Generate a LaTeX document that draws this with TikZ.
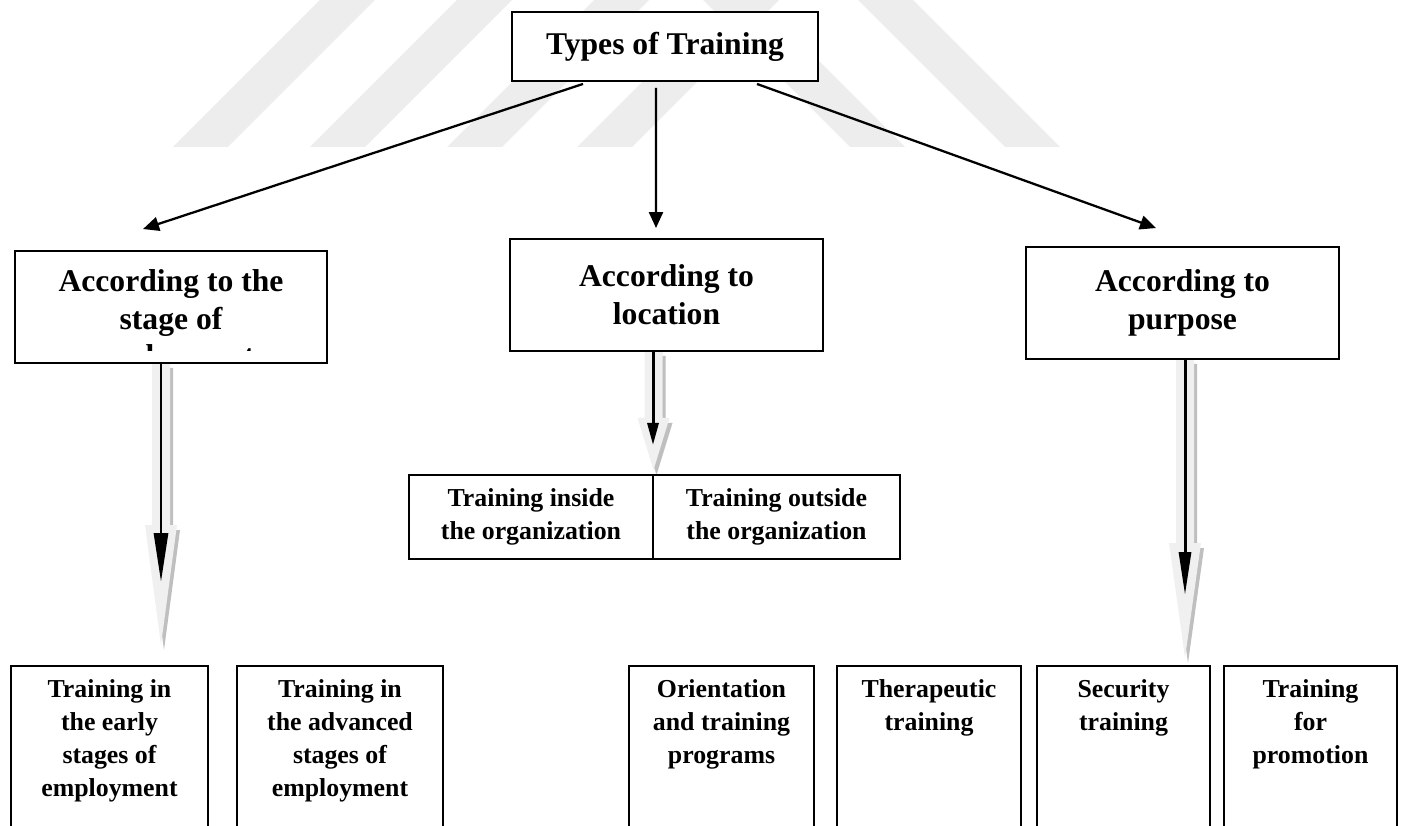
\documentclass[tikz,border=0pt]{standalone}
\usepackage{fontspec}
\setmainfont{Liberation Serif}
\usetikzlibrary{arrows.meta}

\newcommand{\boxfont}{\fontsize{18}{21.5}\selectfont\bfseries}
\newcommand{\leaffont}{\fontsize{14.7}{18.7}\selectfont\bfseries}
% grey block arrow: centre x, top, head base, tip
\newcommand{\hollowarrow}[4]{%
  \fill[black!25, shift={(0.06,-0.1)}] (#1-0.18,#2) -- (#1-0.18,#3) -- (#1-0.32,#3) -- (#1,#4)
     -- (#1+0.32,#3) -- (#1+0.18,#3) -- (#1+0.18,#2) -- cycle;
  \fill[black!6] (#1-0.18,#2) -- (#1-0.18,#3) -- (#1-0.32,#3) -- (#1,#4)
     -- (#1+0.32,#3) -- (#1+0.18,#3) -- (#1+0.18,#2) -- cycle;}

\tikzset{
  stripe/.style={black!7},
  topbox/.style={draw, line width=1.1pt, fill=white, font=\boxfont, inner sep=0pt,
    minimum width=6.12cm, minimum height=1.38cm},
  catbox/.style={draw, line width=1.1pt, fill=white, align=center, font=\boxfont, inner sep=0pt,
    minimum width=6.26cm, minimum height=2.24cm},
  subbox/.style={draw, line width=1.1pt, fill=white, align=center, font=\leaffont, inner sep=0pt,
    minimum height=1.68cm},
  leaf/.style={draw, line width=1.1pt, fill=white, anchor=north, minimum height=4cm},
  leaftext/.style={anchor=north, yshift=-0.17cm, align=center, font=\leaffont},
  link/.style={line width=1.3pt, -{Triangle[length=0.32cm,width=0.28cm]}},
  downlink/.style={line width=1.7pt}
}

\begin{document}
\begin{tikzpicture}
  \clip (0,0) rectangle (28.08,-16.52);
  % watermark
  \foreach \s in {3.46,6.20,8.94,11.54}
    \fill[stripe] (\s,-2.94) -- ++(1.1,0) -- ++(2.94,2.94) -- ++(-1.1,0) -- cycle;
  \foreach \s in {17.00,20.10}
    \fill[stripe] (\s,-2.94) -- ++(1.1,0) -- ++(-2.94,2.94) -- ++(-1.1,0) -- cycle;

  \hollowarrow{3.22}{-7.26}{-10.50}{-12.90}
  \hollowarrow{13.07}{-7.02}{-8.36}{-9.40}
  \hollowarrow{23.70}{-7.18}{-10.86}{-13.16}

  \draw (13.30,-0.93) node[topbox] (types) {Types of Training};
  \draw (3.42,-6.14) node[catbox, minimum width=6.24cm] (stage) {};
  \draw (13.33,-5.90) node[catbox] (location) {According to\\location};
  \draw (23.65,-6.06) node[catbox] (purpose) {According to\\purpose};

  \begin{scope}
    \clip ([yshift=-0.04cm]stage.north west) rectangle ([yshift=0.27cm]stage.south east);
    \node[anchor=north, align=center, font=\boxfont, inner sep=0pt] (stagetext)
      at ([yshift=-0.38cm]stage.north) {According to the\\stage of\\employment};
  \end{scope}

  \draw (10.62,-10.34) node[subbox, minimum width=4.88cm] (inside) {Training inside\\the organization};
  \draw (15.53,-10.34) node[subbox, minimum width=4.94cm] (outside) {Training outside\\the organization};

  \draw (2.19,-13.3) node[leaf, minimum width=3.94cm,
      label={[leaftext]north:{Training in\\the early\\stages of\\employment}}] (early) {};
  \draw (6.80,-13.3) node[leaf, minimum width=4.12cm,
      label={[leaftext]north:{Training in\\the advanced\\stages of\\employment}}] (advanced) {};
  \draw (14.43,-13.3) node[leaf, minimum width=3.70cm,
      label={[leaftext]north:{Orientation\\and training\\programs}}] (orient) {};
  \draw (18.58,-13.3) node[leaf, minimum width=3.68cm,
      label={[leaftext]north:{Therapeutic\\training}}] (thera) {};
  \draw (22.47,-13.3) node[leaf, minimum width=3.46cm,
      label={[leaftext]north:{Security\\training}}] (secur) {};
  \draw (26.21,-13.3) node[leaf, minimum width=3.46cm,
      label={[leaftext]north:{Training\\for\\promotion}}] (promo) {};

  \path[link] ([xshift=-1.64cm,yshift=-0.04cm]types.south) edge ([xshift=-0.56cm,yshift=0.42cm]stage.north);
  \path[link] ([xshift=-0.18cm,yshift=-0.12cm]types.south) edge ([xshift=-0.21cm,yshift=0.20cm]location.north);
  \path[link] ([xshift=1.84cm,yshift=-0.04cm]types.south) edge ([xshift=-0.53cm,yshift=0.36cm]purpose.north);

  \coordinate (stagetip) at (3.22,-11.64);
  \coordinate (locationtip) at (13.06,-8.90);
  \coordinate (purposetip) at (23.70,-11.90);
  \draw[downlink, -{Triangle[length=0.98cm,width=0.28cm]}] (stage.south -| stagetip) -- (stagetip);
  \draw[downlink, -{Triangle[length=0.44cm,width=0.22cm]}] (location.south -| locationtip) -- (locationtip);
  \draw[downlink, -{Triangle[length=0.86cm,width=0.24cm]}] (purpose.south -| purposetip) -- (purposetip);
\end{tikzpicture}
\end{document}
